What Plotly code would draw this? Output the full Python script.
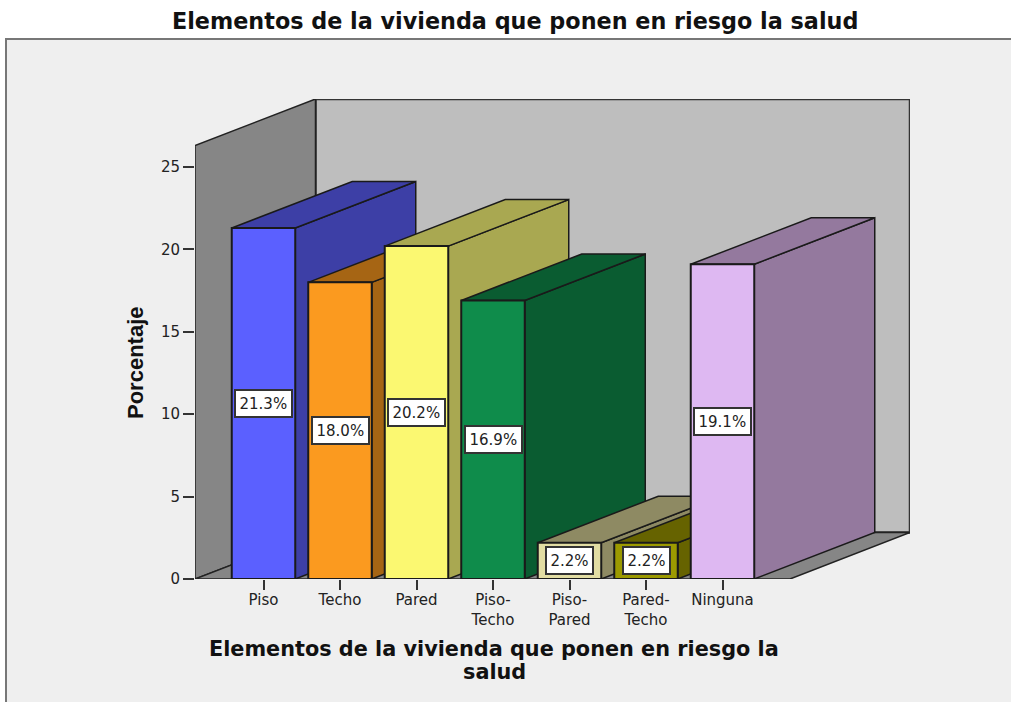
import plotly.graph_objects as go

# ---- data ----
categories = ["Piso", "Techo", "Pared", "Piso-Techo", "Piso-Pared", "Pared-Techo", "Ninguna"]
tick_labels = ["Piso", "Techo", "Pared", "Piso-<br>Techo", "Piso-<br>Pared", "Pared-<br>Techo", "Ninguna"]
values = [21.3, 18.0, 20.2, 16.9, 2.2, 2.2, 19.1]
value_labels = ["21.3%", "18.0%", "20.2%", "16.9%", "2.2%", "2.2%", "19.1%"]
y_ticks = [0, 5, 10, 15, 20, 25]
front_colors = ["#5B60FF", "#FB9A1F", "#FBF871", "#0F8C4B", "#E2DDA3", "#9C9A00", "#DEB8F2"]
side_colors = ["#3D3FA6", "#A66514", "#A9A851", "#0A5C31", "#8E8A63", "#666300", "#94799E"]

# ---- layout geometry ----
W, H = 1011, 702
PX_LEFT, PX_RIGHT, PX_BOTTOM, PX_TOP = 195, 910, 579, 99
PX_PER_CAT, PX_PER_UNIT = 76.5, 16.48
X_FIRST = 263.5
x_min = (PX_LEFT - X_FIRST) / PX_PER_CAT
x_max = (PX_RIGHT - X_FIRST) / PX_PER_CAT
y_max = (PX_BOTTOM - PX_TOP) / PX_PER_UNIT
DX = 120.5 / PX_PER_CAT      # depth offset in category units
DY = 46.5 / PX_PER_UNIT      # depth offset in percentage units
BAR_W = 63.5 / PX_PER_CAT
WALL_TOP = y_max - DY
FLOOR_RIGHT = (790 - X_FIRST) / PX_PER_CAT
FONT = "Liberation Sans"
WIDE = "DejaVu Sans"

fig = go.Figure()


def poly(xs, ys, fill, line="#1a1a1a", width=1.5):
    fig.add_trace(go.Scatter(
        x=xs + xs[:1], y=ys + ys[:1], mode="lines", fill="toself", fillcolor=fill,
        line=dict(color=line, width=width), hoverinfo="skip", showlegend=False,
        cliponaxis=False))


# back wall, left wall, floor
poly([x_min + DX, x_max, x_max, x_min + DX], [DY, DY, y_max, y_max], "#BEBEBE", "#333333", 2.5)
poly([x_min, x_min + DX, x_min + DX, x_min], [0, DY, y_max, WALL_TOP], "#868686", "#222222", 1.5)
poly([x_min, FLOOR_RIGHT, x_max, x_min + DX], [0, 0, DY, DY], "#868686", "#222222", 1.5)

# bars, left to right so that each one hides the previous one's side
for i, v in enumerate(values):
    l, r = i - BAR_W / 2, i + BAR_W / 2
    poly([r, r + DX, r + DX, r], [0, DY, v + DY, v], side_colors[i])
    poly([l, r, r + DX, l + DX], [v, v, v + DY, v + DY], side_colors[i])
    poly([l, r, r, l], [0, 0, v, v], front_colors[i], "#1a1a1a", 2)

for i, v in enumerate(values):
    fig.add_annotation(
        x=i, y=v / 2, text=value_labels[i], showarrow=False, xref="x", yref="y",
        xanchor="center", yanchor="middle",
        font=dict(family=WIDE, size=15, color="#222222"),
        bgcolor="white", bordercolor="#333333", borderwidth=2, borderpad=3.5)

fig.add_annotation(
    x=515 / W, y=1 - 21 / H, xref="paper", yref="paper", showarrow=False,
    xanchor="center", yanchor="middle",
    text="<b>Elementos de la vivienda que ponen en riesgo la salud</b>",
    font=dict(family=WIDE, size=22.3, color="#111111"))
fig.add_annotation(
    x=494 / W, y=1 - 649 / H, xref="paper", yref="paper", showarrow=False,
    xanchor="center", yanchor="middle",
    text="<b>Elementos de la vivienda que ponen en riesgo la</b>",
    font=dict(family=WIDE, size=20.8, color="#111111"))
fig.add_annotation(
    x=494 / W, y=1 - 672 / H, xref="paper", yref="paper", showarrow=False,
    xanchor="center", yanchor="middle",
    text="<b>salud</b>",
    font=dict(family=WIDE, size=20.8, color="#111111"))
fig.add_annotation(
    x=135 / W, y=1 - 363 / H, xref="paper", yref="paper", showarrow=False, textangle=-90,
    xanchor="center", yanchor="middle",
    text="<b>Porcentaje</b>", font=dict(family=FONT, size=22, color="#111111"))

fig.update_layout(
    width=W, height=H, margin=dict(l=0, r=0, t=0, b=0, autoexpand=False),
    paper_bgcolor="white", plot_bgcolor="rgba(0,0,0,0)", showlegend=False,
    shapes=[dict(type="rect", xref="paper", yref="paper", layer="below",
                 x0=6 / W, x1=1.02, y0=-0.02, y1=1 - 39 / H,
                 fillcolor="#EFEFEF", line=dict(color="#777777", width=2))],
    xaxis=dict(domain=[PX_LEFT / W, PX_RIGHT / W], range=[x_min, x_max], automargin=False,
               tickvals=list(range(len(categories))), ticktext=tick_labels,
               ticks="outside", ticklen=10, tickwidth=1.5, tickcolor="#333333",
               ticklabelstandoff=-3,
               tickfont=dict(family=WIDE, size=15, color="#222222"),
               showgrid=False, zeroline=False, showline=False),
    yaxis=dict(domain=[1 - PX_BOTTOM / H, 1 - PX_TOP / H], range=[0, y_max], automargin=False,
               tickvals=y_ticks, ticks="outside", ticklen=11, tickwidth=1.5, tickcolor="#333333",
               tickfont=dict(family=WIDE, size=15, color="#222222"),
               showgrid=False, zeroline=False, showline=False),
)

fig.write_html("out.html", config={"displayModeBar": False},
               post_script="document.body.style.margin='0';document.body.style.overflow='hidden';")
